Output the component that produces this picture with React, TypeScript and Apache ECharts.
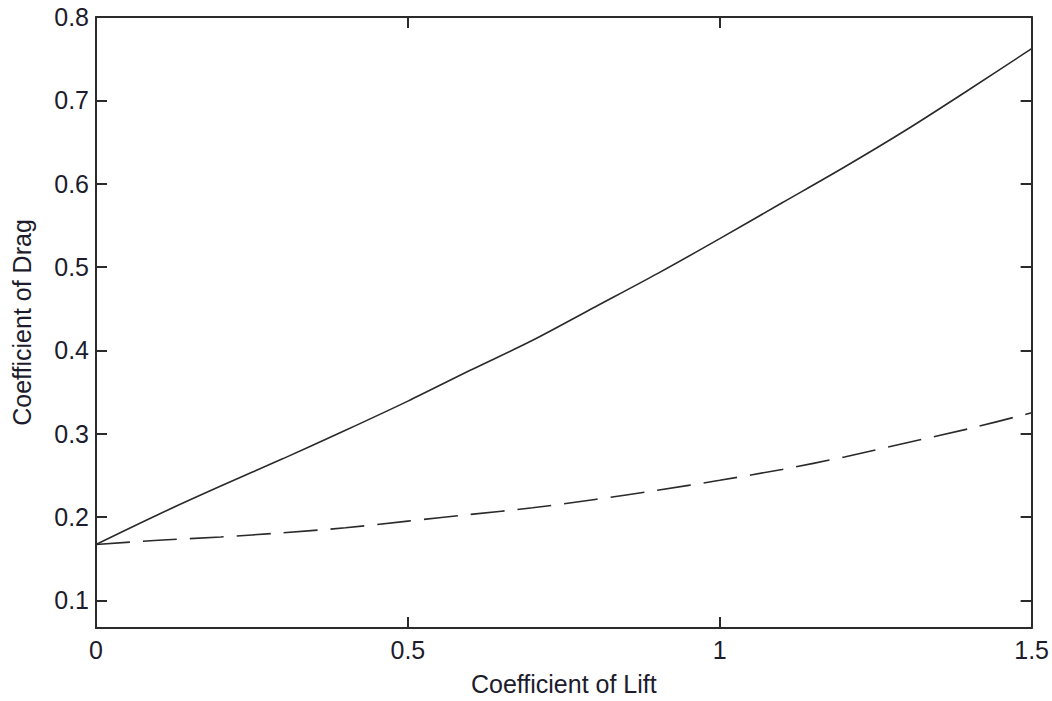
import React, { useEffect, useRef } from "react";
import * as echarts from "echarts";

const liftValues = [0, 0.1, 0.2, 0.3, 0.4, 0.5, 0.6, 0.7, 0.8, 0.9, 1.0, 1.1, 1.2, 1.3, 1.4, 1.5];
const dragSolid = [0.167, 0.203, 0.237, 0.270, 0.304, 0.339, 0.376, 0.412, 0.452, 0.492, 0.534, 0.577, 0.620, 0.665, 0.713, 0.762];
const dragDashed = [0.167, 0.172, 0.176, 0.181, 0.187, 0.195, 0.203, 0.211, 0.221, 0.232, 0.244, 0.257, 0.272, 0.289, 0.306, 0.325];
const yTicks = [0.1, 0.2, 0.3, 0.4, 0.5, 0.6, 0.7, 0.8];
const xTicks = [0, 0.5, 1, 1.5];
const xName = "Coefficient of Lift";
const yName = "Coefficient of Drag";

const FONT = "'Liberation Sans', Arial, sans-serif";
const TEXT = "#1c1c2c";
const AXIS = "#2b2b2b";

export default function App() {
  const ref = useRef<HTMLDivElement>(null);
  useEffect(() => {
    if (!ref.current) return;
    const chart = echarts.init(ref.current, undefined, { renderer: "svg" });
    const yMin = 0.0667;
    const yMax = 0.8;
    const axisLine = { show: true, onZero: false, lineStyle: { color: AXIS, width: 2 } };
    const tick = { show: true, inside: true, length: 11, lineStyle: { color: AXIS, width: 2 } };
    chart.setOption({
      animation: false,
      backgroundColor: "#ffffff",
      grid: { left: 96, right: 20, top: 17, bottom: 68, containLabel: false },
      xAxis: [
        {
          type: "value",
          min: 0,
          max: 1.5,
          interval: 0.5,
          position: "bottom",
          name: xName,
          nameLocation: "middle",
          nameGap: 43,
          nameTextStyle: { fontFamily: FONT, fontSize: 25, color: TEXT },
          axisLine,
          axisTick: { ...tick, customValues: xTicks },
          axisLabel: {
            customValues: xTicks,
            margin: 9,
            fontFamily: FONT,
            fontSize: 25,
            color: TEXT,
            formatter: (v: number) => String(v),
          },
          splitLine: { show: false },
        },
        {
          type: "value",
          min: 0,
          max: 1.5,
          interval: 0.5,
          position: "top",
          axisLine,
          axisTick: { ...tick, customValues: xTicks },
          axisLabel: { show: false },
          splitLine: { show: false },
        },
      ],
      yAxis: [
        {
          type: "value",
          min: yMin,
          max: yMax,
          position: "left",
          name: yName,
          nameLocation: "middle",
          nameGap: 62,
          nameTextStyle: { fontFamily: FONT, fontSize: 25, color: TEXT },
          axisLine,
          axisTick: { ...tick, customValues: yTicks },
          axisLabel: {
            customValues: yTicks,
            margin: 7,
            fontFamily: FONT,
            fontSize: 25,
            color: TEXT,
            formatter: (v: number) => v.toFixed(1),
          },
          splitLine: { show: false },
        },
        {
          type: "value",
          min: yMin,
          max: yMax,
          position: "right",
          axisLine,
          axisTick: { ...tick, customValues: yTicks },
          axisLabel: { show: false },
          splitLine: { show: false },
        },
      ],
      series: [
        {
          type: "line",
          xAxisIndex: 0,
          yAxisIndex: 0,
          data: liftValues.map((x, i) => [x, dragSolid[i]]),
          showSymbol: false,
          smooth: 0.3,
          lineStyle: { color: "#2a2a2a", width: 1.6, type: "solid" },
        },
        {
          type: "line",
          xAxisIndex: 0,
          yAxisIndex: 0,
          data: liftValues.map((x, i) => [x, dragDashed[i]]),
          showSymbol: false,
          smooth: 0.3,
          lineStyle: { color: "#2a2a2a", width: 1.6, type: [34, 13] },
        },
      ],
    });
    return () => chart.dispose();
  }, []);
  return (
    <div
      ref={ref}
      style={{ position: "fixed", left: 0, top: 0, width: 1052, height: 701, background: "#fff" }}
    />
  );
}
